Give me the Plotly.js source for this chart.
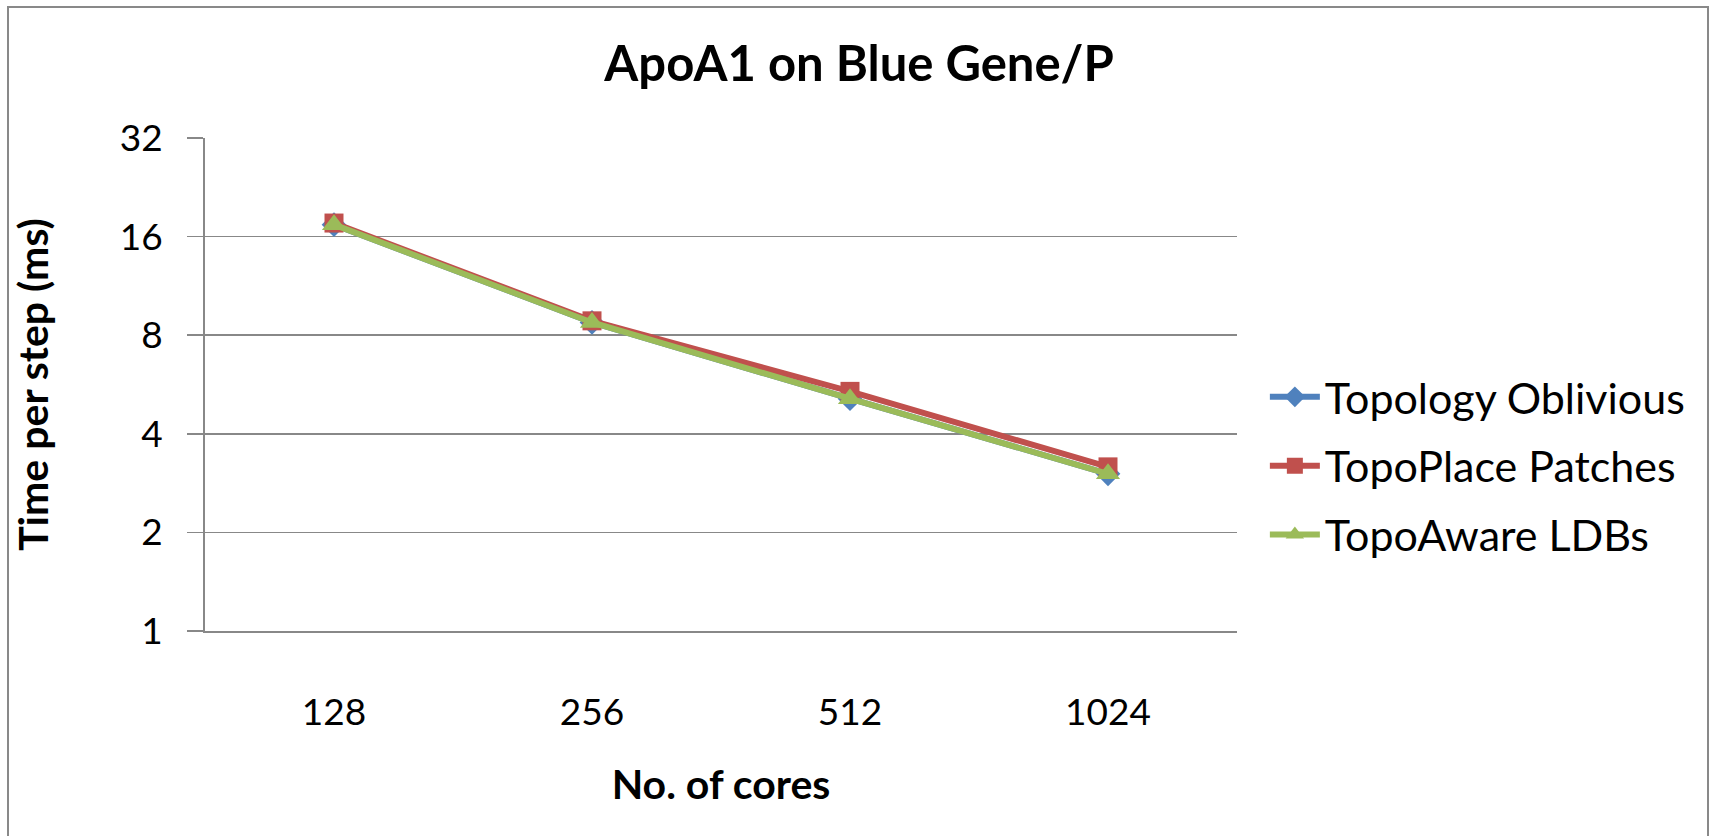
<!DOCTYPE html>
<html>
<head>
<meta charset="utf-8">
<script src="https://cdn.plot.ly/plotly-3.0.1.min.js"></script>
<style>
html,body{margin:0;padding:0;background:#fff;overflow:hidden;}
#frame{position:absolute;left:7px;top:6px;width:1702px;height:850px;border:2px solid #898989;box-sizing:border-box;}
#chart{position:absolute;left:0;top:0;width:1713px;height:836px;}
</style>
</head>
<body>
<div id="frame"></div>
<div id="chart"></div>
<script>
const categories = ["128", "256", "512", "1024"];
const seriesNames = ["Topology Oblivious", "TopoPlace Patches", "TopoAware LDBs"];
const topologyOblivious = [17.4, 8.75, 5.12, 3.02];
const topoPlacePatches = [17.6, 8.85, 5.39, 3.17];
const topoAwareLDBs = [17.4, 8.75, 5.12, 3.02];
const yTickVals = [1, 2, 4, 8, 16, 32];
const yTickText = ["1", "2", "4", "8", "16", "32"];

const FONT = "Lato, 'Open Sans', sans-serif";
const colors = ["#4F81BD", "#C0504D", "#9BBB59"];
const symbols = ["diamond", "square", "triangle-up"];
const values = [topologyOblivious, topoPlacePatches, topoAwareLDBs];

const traces = values.map((v, i) => ({
  type: "scatter",
  mode: "lines+markers",
  x: categories,
  y: v,
  name: seriesNames[i],
  legendgroup: "g" + i,
  line: {color: colors[i], width: 6},
  marker: {color: colors[i], symbol: symbols[i], size: i === 2 ? 21 : 19, line: {width: 0}},
  cliponaxis: false
}));

const layout = {
  width: 1713,
  height: 836,
  paper_bgcolor: "rgba(0,0,0,0)",
  plot_bgcolor: "rgba(0,0,0,0)",
  margin: {l: 205, r: 476, t: 138, b: 205},
  font: {family: FONT, color: "#000"},
  title: {
    text: "<b>ApoA1 on Blue Gene/P</b>",
    font: {family: FONT, size: 49, color: "#000"},
    x: 0.5015, xref: "container", xanchor: "center",
    y: 0.924, yref: "container", yanchor: "middle"
  },
  xaxis: {
    type: "category",
    range: [-0.5, 3.5],
    showgrid: false,
    showline: true,
    linecolor: "#888",
    linewidth: 2,
    ticks: "",
    tickfont: {family: FONT, size: 37, color: "#000"},
    ticklabelstandoff: 48,
    title: {text: "<b>No. of cores</b>", font: {family: FONT, size: 41, color: "#000"}, standoff: 38},
    zeroline: false,
    fixedrange: true
  },
  yaxis: {
    type: "log",
    range: [0, Math.log10(32)],
    tickvals: yTickVals,
    ticktext: yTickText,
    showgrid: true,
    gridcolor: "#888",
    gridwidth: 1.5,
    showline: true,
    linecolor: "#888",
    linewidth: 2,
    ticks: "outside",
    ticklen: 16,
    tickwidth: 1.5,
    tickcolor: "#888",
    tickfont: {family: FONT, size: 37, color: "#000"},
    ticklabelstandoff: 17,
    title: {text: "<b>Time per step (ms)</b>", font: {family: FONT, size: 41, color: "#000"}, standoff: 58},
    zeroline: false,
    fixedrange: true
  },
  showlegend: true,
  legend: {
    x: 1.027, xanchor: "left",
    y: 0.335, yanchor: "middle",
    traceorder: "grouped",
    tracegroupgap: 10,
    font: {family: FONT, size: 43, color: "#000"},
    bgcolor: "rgba(0,0,0,0)",
    itemwidth: 50
  }
};

Plotly.newPlot("chart", traces, layout, {displayModeBar: false, staticPlot: true});
</script>
</body>
</html>
